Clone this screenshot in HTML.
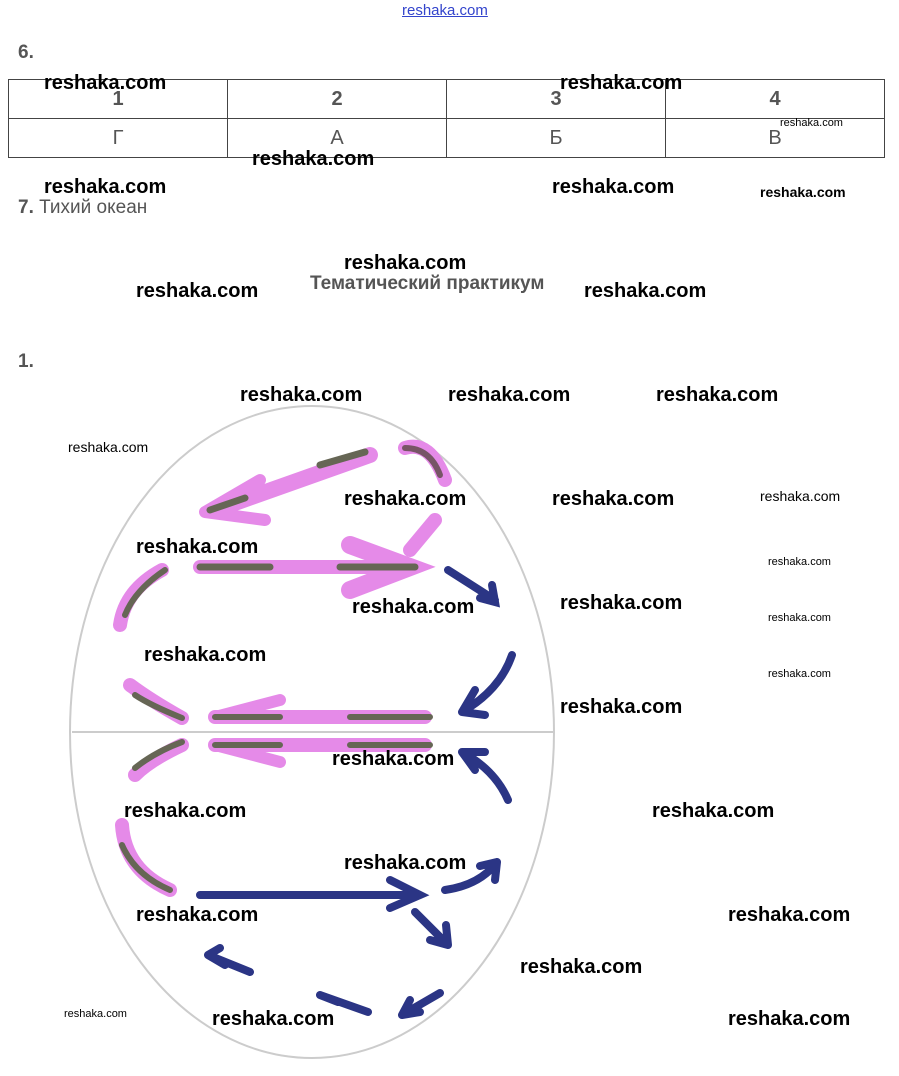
<!DOCTYPE html>
<html><head><meta charset="utf-8"><style>
body{margin:0;width:899px;height:1076px;background:#fff;position:relative;overflow:hidden;font-family:"Liberation Sans",sans-serif}
.a{position:absolute}
.w{position:absolute;font-weight:bold;font-size:20px;color:#000;white-space:nowrap;line-height:24px}
.s{position:absolute;font-size:12px;color:#000;white-space:nowrap}
table{position:absolute;left:8px;top:79px;border-collapse:collapse;width:877px}
td{border:1px solid #444;height:38px;padding:0;text-align:center;font-size:20px;color:#555;width:25%}
</style></head><body>
<div class="a" style="left:402px;top:2px;font-size:15px;color:#3344cc;text-decoration:underline">reshaka.com</div>
<div class="a" style="left:18px;top:42px;font-size:19px;color:#555;font-weight:bold">6.</div>
<table><tr><td style="font-weight:bold">1</td><td style="font-weight:bold">2</td><td style="font-weight:bold">3</td><td style="font-weight:bold">4</td></tr>
<tr><td>Г</td><td>А</td><td>Б</td><td>В</td></tr></table>
<div class="a" style="left:18px;top:197px;font-size:19px;color:#555"><b>7.</b> Тихий океан</div>
<div class="a" style="left:310px;top:273px;font-size:19px;color:#555;font-weight:bold">Тематический практикум</div>
<div class="a" style="left:18px;top:351px;font-size:19px;color:#555;font-weight:bold">1.</div>
<svg class="a" style="left:0;top:0" width="899" height="1076">
<ellipse cx="312" cy="732" rx="242" ry="326" fill="none" stroke="#ccc" stroke-width="2"/>
<line x1="72" y1="732" x2="554" y2="732" stroke="#ccc" stroke-width="2"/>
<g stroke-linecap="round" fill="none">
<path d="M370 455 L215 510" stroke="#e58ae8" stroke-width="16"/>
<path d="M205 512 L260 480 M205 512 L265 520" stroke="#e58ae8" stroke-width="12"/>
<path d="M320 465 L365 452 M210 510 L245 498" stroke="#665" stroke-width="7"/>
<path d="M405 448 Q430 440 445 480" stroke="#e58ae8" stroke-width="14"/>
<path d="M405 448 Q430 448 440 475" stroke="#775566" stroke-width="6"/>
<path d="M200 567 L410 567" stroke="#e58ae8" stroke-width="14"/>
<path d="M350 545 L410 567 L350 590" stroke="#e58ae8" stroke-width="18"/>
<path d="M200 567 L270 567 M340 567 L415 567" stroke="#665" stroke-width="7"/>
<path d="M410 550 L435 520" stroke="#e58ae8" stroke-width="14"/>
<path d="M162 570 Q125 590 120 625" stroke="#e58ae8" stroke-width="14"/>
<path d="M165 570 Q135 590 125 615" stroke="#665" stroke-width="6"/>
<path d="M215 717 L425 717 M215 745 L425 745" stroke="#e58ae8" stroke-width="14"/>
<path d="M215 717 L280 700 M215 745 L280 762" stroke="#e58ae8" stroke-width="12"/>
<path d="M215 717 L280 717 M350 717 L430 717 M215 745 L280 745 M350 745 L430 745" stroke="#665" stroke-width="6"/>
<path d="M182 718 Q150 700 130 685 M182 745 Q150 760 135 775" stroke="#e58ae8" stroke-width="14"/>
<path d="M182 718 Q150 705 135 695 M182 742 Q155 752 135 768" stroke="#665" stroke-width="6"/>
<path d="M122 825 Q125 870 170 890" stroke="#e58ae8" stroke-width="14"/>
<path d="M122 845 Q135 875 170 890" stroke="#665" stroke-width="6"/>
<g stroke="#2b3585" stroke-width="8">
<path d="M200 895 L420 895 M390 880 L420 895 L390 908"/>
<path d="M448 570 L495 600 M480 598 L495 602 L492 585"/>
<path d="M512 655 Q500 690 462 712 M462 712 L475 690 M462 712 L485 715"/>
<path d="M508 800 Q495 770 462 752 M462 752 L485 752 M462 752 L475 770"/>
<path d="M445 890 Q480 885 497 862 M497 862 L480 866 M497 862 L495 880"/>
<path d="M415 912 L448 945 M448 945 L430 940 M448 945 L446 925"/>
<path d="M250 972 L208 955 M208 955 L225 965 M208 955 L220 948"/>
<path d="M368 1012 L320 995 M320 995 L338 1002"/>
<path d="M440 993 L402 1015 M402 1015 L420 1012 M402 1015 L410 1000"/>
</g></g></svg>
<div class="w" style="left:44px;top:71px">reshaka.com</div>
<div class="w" style="left:560px;top:71px">reshaka.com</div>
<div class="s" style="left:780px;top:117px;font-size:11px">reshaka.com</div>
<div class="w" style="left:252px;top:147px">reshaka.com</div>
<div class="w" style="left:44px;top:175px">reshaka.com</div>
<div class="w" style="left:552px;top:175px">reshaka.com</div>
<div class="s" style="left:760px;top:184px;font-size:14px;font-weight:bold">reshaka.com</div>
<div class="w" style="left:344px;top:251px">reshaka.com</div>
<div class="w" style="left:136px;top:279px">reshaka.com</div>
<div class="w" style="left:584px;top:279px">reshaka.com</div>
<div class="w" style="left:240px;top:383px">reshaka.com</div>
<div class="w" style="left:448px;top:383px">reshaka.com</div>
<div class="w" style="left:656px;top:383px">reshaka.com</div>
<div class="s" style="left:68px;top:439px;font-size:14px">reshaka.com</div>
<div class="w" style="left:344px;top:487px">reshaka.com</div>
<div class="w" style="left:552px;top:487px">reshaka.com</div>
<div class="s" style="left:760px;top:488px;font-size:14px">reshaka.com</div>
<div class="w" style="left:136px;top:535px">reshaka.com</div>
<div class="s" style="left:768px;top:556px;font-size:11px">reshaka.com</div>
<div class="w" style="left:560px;top:591px">reshaka.com</div>
<div class="w" style="left:352px;top:595px">reshaka.com</div>
<div class="s" style="left:768px;top:612px;font-size:11px">reshaka.com</div>
<div class="w" style="left:144px;top:643px">reshaka.com</div>
<div class="s" style="left:768px;top:668px;font-size:11px">reshaka.com</div>
<div class="w" style="left:560px;top:695px">reshaka.com</div>
<div class="w" style="left:332px;top:747px">reshaka.com</div>
<div class="w" style="left:124px;top:799px">reshaka.com</div>
<div class="w" style="left:652px;top:799px">reshaka.com</div>
<div class="w" style="left:344px;top:851px">reshaka.com</div>
<div class="w" style="left:136px;top:903px">reshaka.com</div>
<div class="w" style="left:728px;top:903px">reshaka.com</div>
<div class="w" style="left:520px;top:955px">reshaka.com</div>
<div class="s" style="left:64px;top:1008px;font-size:11px">reshaka.com</div>
<div class="w" style="left:212px;top:1007px">reshaka.com</div>
<div class="w" style="left:728px;top:1007px">reshaka.com</div>
</body></html>
